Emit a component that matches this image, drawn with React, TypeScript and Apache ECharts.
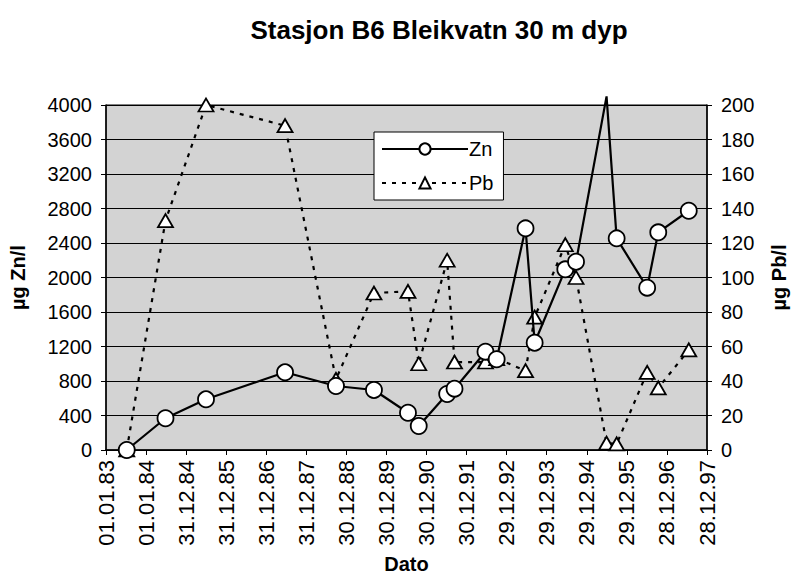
import React, { useEffect, useRef } from "react";
import * as echarts from "echarts";

// Sampling dates
const sampleDates = [
  "1983-07-09", "1984-06-26", "1985-06-30", "1987-06-20", "1988-09-26",
  "1989-09-07", "1990-07-14", "1990-10-20", "1991-07-06", "1991-09-11",
  "1992-06-19", "1992-09-29", "1993-06-19", "1993-09-10", "1994-06-16",
  "1994-09-22", "1995-06-27", "1995-09-27", "1996-07-01", "1996-10-10",
  "1997-07-15",
];
// µg Zn/l
const znValues = [
  0, 368, 588, 901, 742, 696, 432, 278, 649, 711, 1140, 1052, 2570, 1244,
  2095, 2183, 4100, 2454, 1882, 2524, 2774,
];
// µg Pb/l
const pbValues = [
  0, 133, 200, 188, 41, 91, 92, 50, 110, 51, 51, 53, 46, 77, 119, 100, 4, 3.5,
  45, 36, 58,
];

const AXIS_START = "1983-01-01";
const YEARS_SHOWN = 15;
const DAY_MS = 86400000;
const ZN_MAX = 4000;
const PB_MAX = 200;

const FONT = "'Liberation Sans', Arial, sans-serif";

function toDays(s: string): number {
  const [y, m, d] = s.split("-").map(Number);
  const [y0, m0, d0] = AXIS_START.split("-").map(Number);
  return Math.round((Date.UTC(y, m - 1, d) - Date.UTC(y0, m0 - 1, d0)) / DAY_MS);
}

function fmtDay(v: number): string {
  const [y0, m0, d0] = AXIS_START.split("-").map(Number);
  const dt = new Date(Date.UTC(y0, m0 - 1, d0) + v * DAY_MS);
  const dd = String(dt.getUTCDate()).padStart(2, "0");
  const mm = String(dt.getUTCMonth() + 1).padStart(2, "0");
  const yy = String(dt.getUTCFullYear() % 100).padStart(2, "0");
  return `${dd}.${mm}.${yy}`;
}

export default function App() {
  const ref = useRef<HTMLDivElement>(null);

  useEffect(() => {
    if (!ref.current) return;
    const chart = echarts.init(ref.current, undefined, { renderer: "svg" });

    const znData = sampleDates.map((d, i) => {
      const item: any = { value: [toDays(d), znValues[i]] };
      if (znValues[i] > ZN_MAX) item.symbol = "none";
      return item;
    });
    const pbData = sampleDates.map((d, i) => [toDays(d), pbValues[i]]);

    const axisLabel = { color: "#000", fontFamily: FONT, fontSize: 20 };
    const nameStyle = { fontFamily: FONT, fontSize: 20, fontWeight: "bold", color: "#000" };

    chart.setOption({
      animation: false,
      backgroundColor: "#fff",
      title: {
        text: "Stasjon B6 Bleikvatn 30 m dyp",
        left: 434,
        textAlign: "center",
        top: 12,
        textStyle: { fontFamily: FONT, fontSize: 26, fontWeight: "bold", color: "#000" },
      },
      legend: {
        orient: "vertical",
        left: 374,
        top: 132,
        padding: [7, 10, 7, 7],
        itemWidth: 86,
        itemHeight: 14,
        itemGap: 14,
        backgroundColor: "#fff",
        borderColor: "#000",
        borderWidth: 1,
        borderRadius: 0,
        textStyle: { fontFamily: FONT, fontSize: 20, color: "#000", padding: [0, 0, 0, -4] },
        data: ["Zn", "Pb"],
      },
      grid: {
        left: 106,
        right: 88,
        top: 105,
        bottom: 125,
        containLabel: false,
        outerBoundsMode: "none",
        show: true,
        backgroundColor: "#d3d3d3",
        borderColor: "#000",
        borderWidth: 1,
      },
      xAxis: {
        type: "value",
        min: 0,
        max: YEARS_SHOWN * 365,
        interval: 365,
        name: "Dato",
        nameLocation: "middle",
        nameGap: 104,
        nameTextStyle: nameStyle,
        axisLine: { lineStyle: { color: "#000", width: 1.5 } },
        axisTick: { show: true, length: 5, lineStyle: { color: "#000" } },
        axisLabel: { ...axisLabel, fontSize: 22, rotate: 90, margin: 10, formatter: (v: number) => fmtDay(v) },
        splitLine: { show: false },
      },
      yAxis: [
        {
          type: "value",
          min: 0,
          max: ZN_MAX,
          interval: 400,
          name: "µg Zn/l",
          nameLocation: "middle",
          nameGap: 78,
          nameRotate: 90,
          nameTextStyle: nameStyle,
          axisLine: { show: true, lineStyle: { color: "#000", width: 1.5 } },
          axisTick: { show: true, length: 5, lineStyle: { color: "#000" } },
          axisLabel: { ...axisLabel, margin: 14, formatter: (v: number) => String(v) },
          splitLine: { show: true, lineStyle: { color: "#000", width: 1 } },
        },
        {
          type: "value",
          min: 0,
          max: PB_MAX,
          interval: 20,
          name: "µg Pb/l",
          nameLocation: "middle",
          nameGap: 62,
          nameRotate: 90,
          nameTextStyle: nameStyle,
          axisLine: { show: true, lineStyle: { color: "#000", width: 1.5 } },
          axisTick: { show: true, length: 5, lineStyle: { color: "#000" } },
          axisLabel: { ...axisLabel, margin: 14, formatter: (v: number) => String(v) },
          splitLine: { show: false },
        },
      ],
      series: [
        {
          name: "Pb",
          type: "line",
          yAxisIndex: 1,
          data: pbData,
          symbol: "triangle",
          symbolSize: [15, 13],
          clip: false,
          lineStyle: { color: "#000", width: 2.2, type: [4, 6] },
          itemStyle: { color: "#fff", borderColor: "#000", borderWidth: 1.8 },
          z: 2,
        },
        {
          name: "Zn",
          type: "line",
          yAxisIndex: 0,
          data: znData,
          symbol: "circle",
          symbolSize: 16,
          clip: false,
          lineStyle: { color: "#000", width: 2.2 },
          itemStyle: { color: "#fff", borderColor: "#000", borderWidth: 1.8 },
          z: 3,
        },
      ],
    });

    return () => chart.dispose();
  }, []);

  return (
    <div
      ref={ref}
      style={{ position: "absolute", left: 0, top: 0, width: 795, height: 575 }}
    />
  );
}
